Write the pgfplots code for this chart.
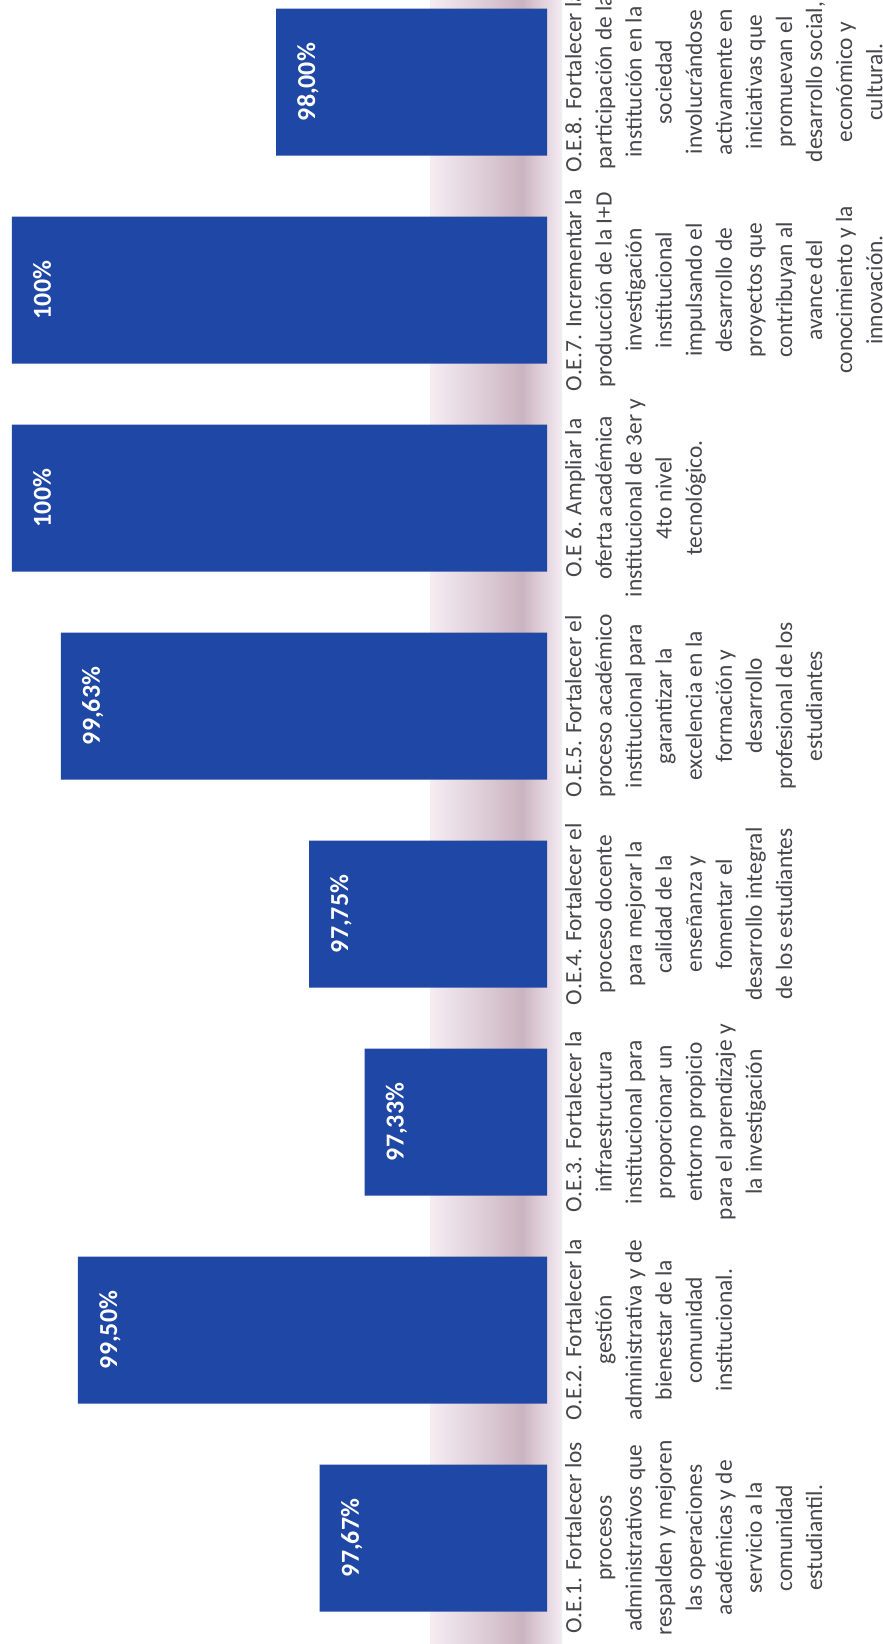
\documentclass[border=0pt]{standalone}
\usepackage{fontspec}
\setmainfont{Carlito}
\usepackage{pgfplots}
\pgfplotsset{compat=1.18}
\definecolor{barblue}{RGB}{30,71,166}
\definecolor{labgray}{RGB}{70,70,76}
\definecolor{bgpink}{RGB}{245,237,242}
\definecolor{shadowc}{RGB}{203,180,193}

\begin{document}
\begin{tikzpicture}
\useasboundingbox (0,0) rectangle (883bp,1644bp);
\clip (0,0) rectangle (883bp,1644bp);
% paper background
\shade[left color=white, middle color=bgpink, right color=white] (0,0) rectangle (883bp,1644bp);
% soft shadow of the page curl, seen between the bars
\shade[left color=bgpink, right color=shadowc] (430bp,0) rectangle (522bp,1644bp);
\shade[left color=shadowc, right color=bgpink] (522bp,0) rectangle (562bp,1644bp);
\begin{axis}[
  at={(0,2bp)}, anchor=south west,
  scale only axis, width=547bp, height=1664bp,
  xbar, bar width=147bp,
  x dir=reverse,
  xmin=95.95, xmax=100.09,
  ymin=0.5, ymax=8.5,
  axis line style={draw=none},
  major tick length=0pt,
  xtick=\empty,
  ytick={1,...,8},
  yticklabel pos=right,
  yticklabel shift=18bp,
  yticklabels={
    {O.E.1. Fortalecer los\\procesos\\administrativos que\\respalden y mejoren\\las operaciones\\académicas y de\\servicio a la\\comunidad\\estudiantil.},
    {O.E.2. Fortalecer la\\gestión\\administrativa y de\\bienestar de la\\comunidad\\institucional.},
    {O.E.3. Fortalecer la\\infraestructura\\institucional para\\proporcionar un\\entorno propicio\\para el aprendizaje y\\la investigación},
    {O.E.4. Fortalecer el\\proceso docente\\para mejorar la\\calidad de la\\enseñanza y\\fomentar el\\desarrollo integral\\de los estudiantes},
    {O.E.5. Fortalecer el\\proceso académico\\institucional para\\garantizar la\\excelencia en la\\formación y\\desarrollo\\profesional de los\\estudiantes},
    {O.E 6. Ampliar la\\oferta académica\\institucional de 3er y\\4to nivel\\tecnológico.},
    {O.E.7. Incrementar la\\producción de la I+D\\investigación\\institucional\\impulsando el\\desarrollo de\\proyectos que\\contribuyan al\\avance del\\conocimiento y la\\innovación.},
    {O.E.8. Fortalecer la\\participación de la\\institución en la\\sociedad\\involucrándose\\activamente en\\iniciativas que\\promuevan el\\desarrollo social,\\económico y\\cultural.}
  },
  yticklabel style={rotate=90, anchor=north, align=center, inner sep=0pt,
    font={\fontsize{23.5}{30.2}\selectfont}, text=labgray},
  nodes near coords,
  point meta=explicit symbolic,
  every node near coord/.append style={rotate=90, anchor=north, inner sep=21bp,
    font={\fontsize{26}{30}\selectfont\bfseries}, text=white},
]
\addplot[fill=barblue, draw=none] table[x=v, y=c, meta=lab] {
v     c lab
97.67 1 97,67\%
99.50 2 99,50\%
97.33 3 97,33\%
97.75 4 97,75\%
99.63 5 99,63\%
100.00 6 100\%
100.00 7 100\%
98.00 8 98,00\%
};
\end{axis}
\end{tikzpicture}
\end{document}
